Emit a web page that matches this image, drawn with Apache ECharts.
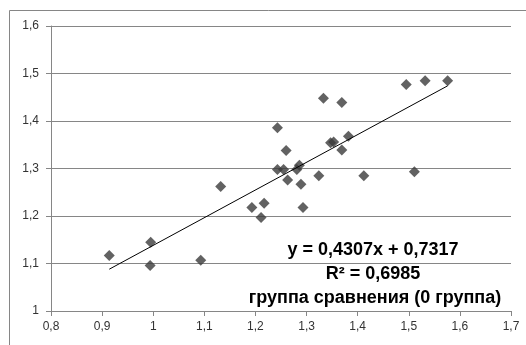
<!DOCTYPE html>
<html><head><meta charset="utf-8">
<script src="https://cdn.jsdelivr.net/npm/echarts@6/dist/echarts.min.js"></script>
<style>html,body{margin:0;padding:0;background:#fff}#c{width:526px;height:345px}</style>
</head><body><div id="c"></div>
<script>
const xValues = [0.914,0.995,0.994,1.093,1.132,1.193,1.211,1.217,1.243,1.243,1.255,1.260,1.263,1.281,1.286,1.289,1.293,1.324,1.333,1.347,1.353,1.369,1.369,1.382,1.412,1.495,1.511,1.532,1.576];
const yValues = [1.117,1.145,1.096,1.107,1.262,1.218,1.197,1.227,1.386,1.298,1.298,1.338,1.276,1.298,1.307,1.267,1.218,1.285,1.448,1.354,1.356,1.439,1.339,1.368,1.285,1.477,1.293,1.485,1.485];
const trendX = [0.914,1.576];
const trendY = [1.088,1.474];
const xTicks = ['0,8','0,9','1','1,1','1,2','1,3','1,4','1,5','1,6','1,7'];
const labels = ['y = 0,4307x + 0,7317','R² = 0,6985','группа сравнения (0 группа)'];

const fmt = v => String(Math.round(v*10)/10).replace('.', ',');
const chart = echarts.init(document.getElementById('c'));
chart.setOption({
  animation:false,
  grid:{left:51,top:26,right:15,bottom:34},
  xAxis:{type:'value',min:0.8,max:1.7,interval:0.1,
    axisLine:{show:true,onZero:false,lineStyle:{color:'#868686'}},
    axisTick:{show:true,length:5,lineStyle:{color:'#868686'}},
    splitLine:{show:false},
    axisLabel:{color:'#333',fontFamily:'Liberation Sans',fontSize:12,margin:10,
      formatter:v=>xTicks[Math.round((v-0.8)*10)]}},
  yAxis:{type:'value',min:1,max:1.6,interval:0.1,
    axisLine:{show:true,lineStyle:{color:'#868686'}},
    axisTick:{show:true,length:5,lineStyle:{color:'#868686'}},
    splitLine:{show:true,lineStyle:{color:'#868686',width:1}},
    axisLabel:{color:'#333',fontFamily:'Liberation Sans',fontSize:12,margin:12,formatter:fmt}},
  series:[
    {type:'scatter',data:xValues.map((x,i)=>[x,yValues[i]]),symbol:'diamond',symbolSize:11,
      itemStyle:{color:'#3b3b3b'},z:3},
    {type:'line',data:trendX.map((x,i)=>[x,trendY[i]]),symbol:'none',
      lineStyle:{color:'#000',width:1},z:4}
  ],
  graphic:[
    {type:'rect',shape:{x:9.5,y:10.5,width:530,height:340},style:{fill:'none',stroke:'#868686',lineWidth:1},z:-1},
    {type:'text',x:373,y:250,style:{text:labels[0],fill:'#000',font:'bold 18px "Liberation Sans"',textAlign:'center',textVerticalAlign:'middle'}},
    {type:'text',x:373,y:274,style:{text:labels[1],fill:'#000',font:'bold 18px "Liberation Sans"',textAlign:'center',textVerticalAlign:'middle'}},
    {type:'text',x:375,y:298,style:{text:labels[2],fill:'#000',font:'bold 18px "Liberation Sans"',textAlign:'center',textVerticalAlign:'middle'}}
  ]
});
</script></body></html>
